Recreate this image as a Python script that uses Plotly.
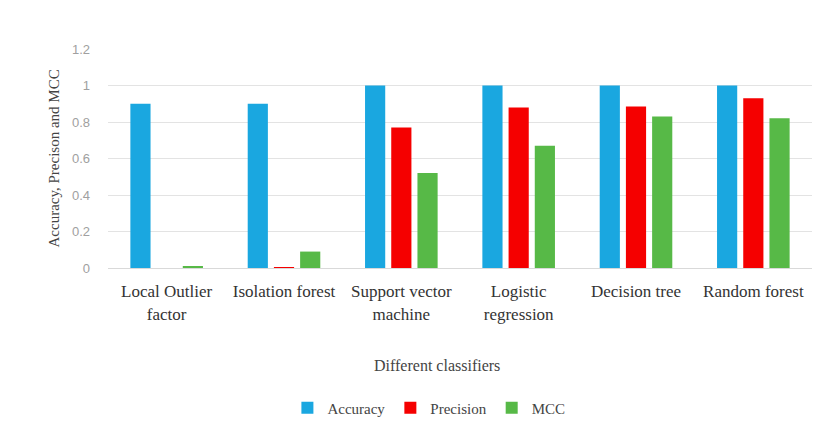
import plotly.graph_objects as go

categories = ["Local Outlier<br>factor", "Isolation forest", "Support vector<br>machine",
              "Logistic<br>regression", "Decision tree", "Random forest"]
accuracy = [0.90, 0.90, 1.00, 1.00, 1.00, 1.00]
precision = [0.0, 0.005, 0.77, 0.88, 0.885, 0.93]
mcc = [0.01, 0.09, 0.52, 0.67, 0.83, 0.82]

series = [("Accuracy", accuracy, "#1AA7E0"),
          ("Precision", precision, "#F50000"),
          ("MCC", mcc, "#57B947")]

fig = go.Figure()
for name, vals, color in series:
    fig.add_trace(go.Bar(x=categories, y=vals, name=name, marker_color=color,
                         marker_line_width=0))

serif = "Liberation Serif, Times New Roman, serif"
fig.update_layout(
    width=828, height=430,
    margin=dict(l=108, r=16, t=49, b=162, autoexpand=False),
    paper_bgcolor="white", plot_bgcolor="white",
    barmode="group", bargap=0.33, bargroupgap=0.23,
    font=dict(family=serif, size=15, color="#333333"),
    showlegend=True,
    legend=dict(orientation="h", xref="container", x=0.518, xanchor="center",
                yref="container", y=22 / 430, yanchor="middle",
                font=dict(size=15, color="#444444"), itemwidth=30, traceorder="normal"),
    xaxis=dict(
        showgrid=False, showline=True, linecolor="#d9d9d9", ticks="",
        tickfont=dict(size=17, color="#333333"), automargin=False,
        ticklabelstandoff=8,
    ),
    yaxis=dict(
        range=[0, 1.2], dtick=0.2, tickformat="~g",
        showgrid=True, gridcolor="#e3e3e3", gridwidth=1,
        zeroline=False, showline=False, ticks="", automargin=False,
        ticklabelstandoff=17,
        tickfont=dict(family="Liberation Sans, Arial, sans-serif", size=13, color="#a0a0a0"),
    ),
    annotations=[
        dict(text="Different classifiers", xref="paper", yref="paper",
             x=(437 - 108) / 704, y=(268 - 365) / 219, xanchor="center", yanchor="middle",
             showarrow=False, font=dict(size=16, color="#444444")),
        dict(text="Accuracy, Precison and MCC", xref="paper", yref="paper",
             x=(53 - 108) / 704, y=0.5, xanchor="center", yanchor="middle", textangle=-90,
             showarrow=False, font=dict(size=15, color="#444444")),
    ],
)

fig.write_html("out.html")
